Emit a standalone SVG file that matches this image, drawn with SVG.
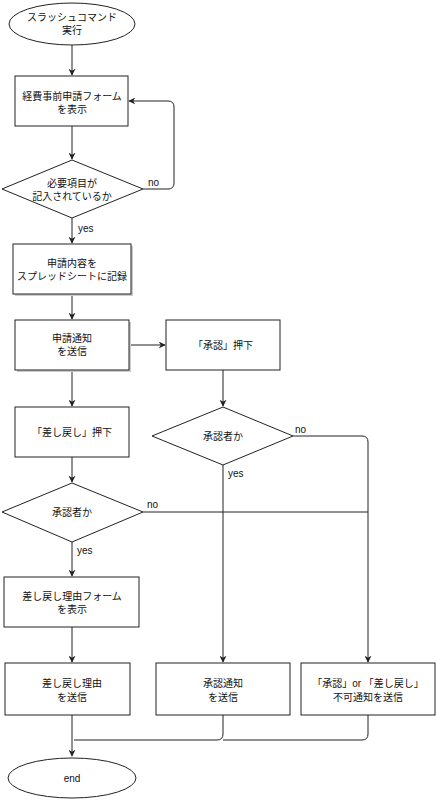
<svg xmlns="http://www.w3.org/2000/svg" width="436" height="800" viewBox="0 0 436 800">
<style>
.s{fill:#fff;stroke:#222;stroke-width:1}
.sh{fill:#ccc;stroke:none}
.c{fill:none;stroke:#222;stroke-width:1}
text{font-family:"Liberation Sans","Noto Sans CJK JP",sans-serif;font-size:10px;fill:#111;text-anchor:middle;dominant-baseline:central}
.l{text-anchor:start}
</style>
<defs>
<marker id="a" viewBox="0 0 10 10" refX="9" refY="5" markerWidth="7" markerHeight="7" orient="auto" markerUnits="userSpaceOnUse">
<path d="M0,0 L10,5 L0,10 L3,5 Z" fill="#222"/>
</marker>
</defs>
<rect width="436" height="800" fill="#fff"/>
<g id="connectors">
<path class="c" d="M72,45 V75" marker-end="url(#a)"/>
<path class="c" d="M72,126 V159" marker-end="url(#a)"/>
<path class="c" d="M143,189 H168 Q174,189 174,183 V107 Q174,101 168,101 H129" marker-end="url(#a)"/>
<path class="c" d="M72,218 V243" marker-end="url(#a)"/>
<path class="c" d="M72,294 V319" marker-end="url(#a)"/>
<path class="c" d="M129,345 H165" marker-end="url(#a)"/>
<path class="c" d="M72,370 V406" marker-end="url(#a)"/>
<path class="c" d="M223,370 V406" marker-end="url(#a)"/>
<path class="c" d="M72,457 V482" marker-end="url(#a)"/>
<path class="c" d="M72,542 V576" marker-end="url(#a)"/>
<path class="c" d="M72,627 V662" marker-end="url(#a)"/>
<path class="c" d="M223,465 V662" marker-end="url(#a)"/>
<path class="c" d="M293,436 H362 Q368,436 368,442 V662" marker-end="url(#a)"/>
<path class="c" d="M143,512 H368"/>
<path class="c" d="M72,715 V756" marker-end="url(#a)"/>
<path class="c" d="M223,715 V734 Q223,740 217,740 H74"/>
<path class="c" d="M368,715 V734 Q368,740 362,740 H223"/>
<text class="l" x="148" y="182">no</text>
<text class="l" x="78" y="228">yes</text>
<text class="l" x="295" y="429">no</text>
<text class="l" x="228" y="473">yes</text>
<text class="l" x="147" y="504">no</text>
<text class="l" x="77" y="550">yes</text>
</g>
<g id="start">
<ellipse class="s" cx="72" cy="24" rx="63" ry="21"/>
<text x="72" y="17">スラッシュコマンド</text>
<text x="72" y="30">実行</text>
</g>
<g id="form">
<rect class="s" x="15" y="76" width="113" height="50"/>
<text x="72" y="96">経費事前申請フォーム</text>
<text x="72" y="109">を表示</text>
</g>
<g id="check">
<polygon class="s" points="72,160 143,189 72,218 2,189"/>
<text x="72" y="183">必要項目が</text>
<text x="72" y="196">記入されているか</text>
</g>
<g id="record">
<rect class="sh" x="15" y="246" width="118" height="50"/>
<rect class="s" x="13" y="244" width="118" height="50"/>
<text x="72" y="263">申請内容を</text>
<text x="72" y="276">スプレッドシートに記録</text>
</g>
<g id="notify">
<rect class="sh" x="17" y="322" width="114" height="50"/>
<rect class="s" x="15" y="320" width="114" height="50"/>
<text x="72" y="338">申請通知</text>
<text x="72" y="351">を送信</text>
</g>
<g id="approve-press">
<rect class="s" x="166" y="320" width="114" height="50"/>
<text x="223" y="345">「承認」押下</text>
</g>
<g id="approver1">
<polygon class="s" points="223,407 293,436 223,465 152,436"/>
<text x="223" y="436">承認者か</text>
</g>
<g id="reject-press">
<rect class="s" x="15" y="407" width="114" height="50"/>
<text x="72" y="432">「差し戻し」押下</text>
</g>
<g id="approver2">
<polygon class="s" points="72,483 143,512 72,542 2,512"/>
<text x="72" y="512">承認者か</text>
</g>
<g id="reason-form">
<rect class="s" x="4" y="577" width="135" height="50"/>
<text x="72" y="596">差し戻し理由フォーム</text>
<text x="72" y="609">を表示</text>
</g>
<g id="reason-send">
<rect class="s" x="5" y="663" width="125" height="52"/>
<text x="72" y="683">差し戻し理由</text>
<text x="72" y="697">を送信</text>
</g>
<g id="approve-send">
<rect class="s" x="156" y="663" width="134" height="52"/>
<text x="223" y="683">承認通知</text>
<text x="223" y="697">を送信</text>
</g>
<g id="deny-send">
<rect class="s" x="301" y="663" width="134" height="52"/>
<text x="368" y="683">「承認」or 「差し戻し」</text>
<text x="368" y="697">不可通知を送信</text>
</g>
<g id="end">
<ellipse class="s" cx="72" cy="778" rx="64" ry="20"/>
<text x="72" y="778">end</text>
</g>
</svg>
